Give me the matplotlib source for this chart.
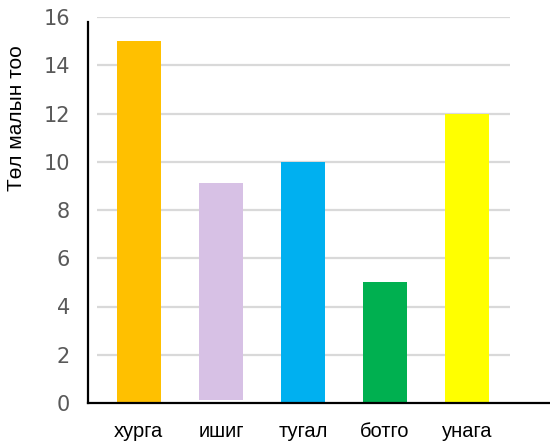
import matplotlib
matplotlib.use('Agg')
import matplotlib.pyplot as plt
import numpy as np


# ---------------------------------------------------
# DATA
# ---------------------------------------------------
CATEGORIES = ['хурга', 'ишиг', 'тугал', 'ботго', 'унага']
VALUES = [15, 9, 10, 5, 12]
BOTTOMS = [0, 0.12, 0, 0, 0]
COLORS = ['#FFC000', '#D7C1E5', '#00B0F0', '#00B050', '#FFFF00']
Y_TICKS = [0, 2, 4, 6, 8, 10, 12, 14, 16]
Y_LABEL = 'Төл малын тоо'
# ---------------------------------------------------


def plot():
    fig = plt.figure(figsize=(5.5, 4.42), dpi=100)
    ax = fig.add_axes([88 / 550, 39 / 442, 462 / 550, 386 / 442])

    x = np.arange(len(CATEGORIES))

    # gridlines, drawn behind the bars and shorter than the axis
    ax.hlines(Y_TICKS[1:], -0.51, 4.52, colors='#D9D9D9', linewidth=1.6, zorder=0)

    ax.bar(x, VALUES, bottom=BOTTOMS, width=0.54, color=COLORS, zorder=2)

    ax.set_xlim(-0.62, 5.01)
    ax.set_ylim(0, 16)
    ax.set_yticks(Y_TICKS)
    ax.set_yticklabels([str(t) for t in Y_TICKS], fontsize=15, color='#595959',
                       family='DejaVu Sans')
    ax.set_xticks(x)
    ax.set_xticklabels(CATEGORIES, fontsize=14.5, family='Liberation Sans', color='black')
    ax.tick_params(axis='y', length=0, pad=13)
    ax.tick_params(axis='x', length=0, pad=14)

    for side in ['top', 'right']:
        ax.spines[side].set_visible(False)
    ax.spines['left'].set_linewidth(1.6)
    ax.spines['bottom'].set_linewidth(1.6)
    ax.spines['left'].set_bounds(0, 15.8)

    fig.text(17 / 550, 1 - 118 / 442, Y_LABEL, rotation=90, fontsize=15,
             family='Liberation Sans', ha='center', va='center')

    fig.savefig('out.png', dpi=100)


def main():
    plot()


if __name__ == '__main__':
    main()
